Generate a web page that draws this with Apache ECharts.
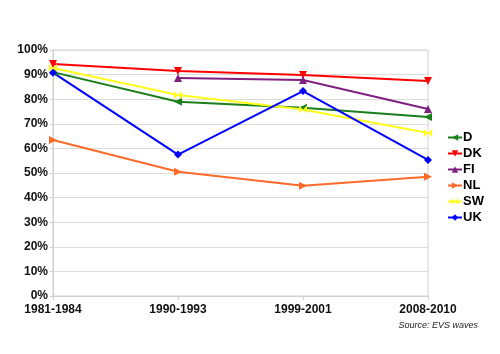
<!DOCTYPE html>
<html>
<head>
<meta charset="utf-8">
<script src="https://cdn.jsdelivr.net/npm/echarts@6/dist/echarts.min.js"></script>
<style>
  html, body { margin: 0; padding: 0; background: #fff; }
  #main { width: 500px; height: 354px; }
</style>
</head>
<body>
<div id="main"></div>
<script>
// 数据
var waves = ['1981-1984', '1990-1993', '1999-2001', '2008-2010'];
var dData  = [91, 79, 76.5, 72.8];
var dkData = [94.3, 91.5, 89.8, 87.4];
var fiData = [null, 88.6, 87.8, 76];
var nlData = [63.4, 50.5, 44.8, 48.5];
var swData = [92.7, 81.7, 75.8, 66.3];
var ukData = [90.8, 57.5, 83.3, 55.3];

var bowtie = 'path://M0,0L10,5L0,10Z M20,0L10,5L20,10Z';

function mkSeries(name, data, color, symbol, rotate) {
    return {
        name: name,
        type: 'line',
        data: data,
        symbol: symbol,
        symbolSize: 8,
        symbolRotate: rotate || 0,
        connectNulls: false,
        lineStyle: { color: color, width: 2 },
        itemStyle: { color: color },
        emphasis: { disabled: true }
    };
}

var myChart = echarts.init(document.getElementById('main'));
var option = {
    animation: false,
    backgroundColor: '#fff',
    grid: {
        left: 53, right: 72, top: 50, bottom: 58,
        show: true, borderColor: '#d0d0d0', borderWidth: 1
    },
    legend: {
        orient: 'vertical',
        left: 442,
        top: 126,
        itemWidth: 14,
        itemHeight: 8,
        itemGap: 3,
        textStyle: { fontFamily: 'Liberation Sans', fontWeight: 'bold', fontSize: 13, color: '#000', padding: [0, 0, 0, -4] },
        data: ['D', 'DK', 'FI', 'NL', 'SW', 'UK']
    },
    xAxis: {
        type: 'category',
        boundaryGap: false,
        data: waves,
        axisLine: { lineStyle: { color: '#cfcfcf' } },
        axisTick: { show: true, length: 4, lineStyle: { color: '#cfcfcf' } },
        axisLabel: { fontFamily: 'Liberation Sans', fontWeight: 'bold', fontSize: 12, color: '#111', margin: 8 },
        splitLine: { show: false }
    },
    yAxis: {
        type: 'value',
        min: 0, max: 100, interval: 10,
        axisLine: { show: true, lineStyle: { color: '#cfcfcf' } },
        axisTick: { show: true, length: 3, lineStyle: { color: '#cfcfcf' } },
        axisLabel: { fontFamily: 'Liberation Sans', fontWeight: 'bold', fontSize: 12, color: '#111', margin: 5, formatter: '{value}%' },
        splitLine: { lineStyle: { color: '#dcdcdc' } }
    },
    graphic: [{
        type: 'text', right: 22, top: 321,
        style: { text: 'Source: EVS waves', font: 'italic 9px Liberation Sans', fill: '#222' }
    }],
    series: [
        mkSeries('D', dData, '#1a7f1a', 'triangle', 90),
        mkSeries('DK', dkData, '#ff0000', 'triangle', 180),
        mkSeries('FI', fiData, '#7f1f7f', 'triangle', 0),
        mkSeries('NL', nlData, '#ff6a2a', 'triangle', -90),
        mkSeries('SW', swData, '#ffff1a', bowtie, 0),
        mkSeries('UK', ukData, '#0000ff', 'diamond', 0)
    ]
};
myChart.setOption(option);
</script>
</body>
</html>
